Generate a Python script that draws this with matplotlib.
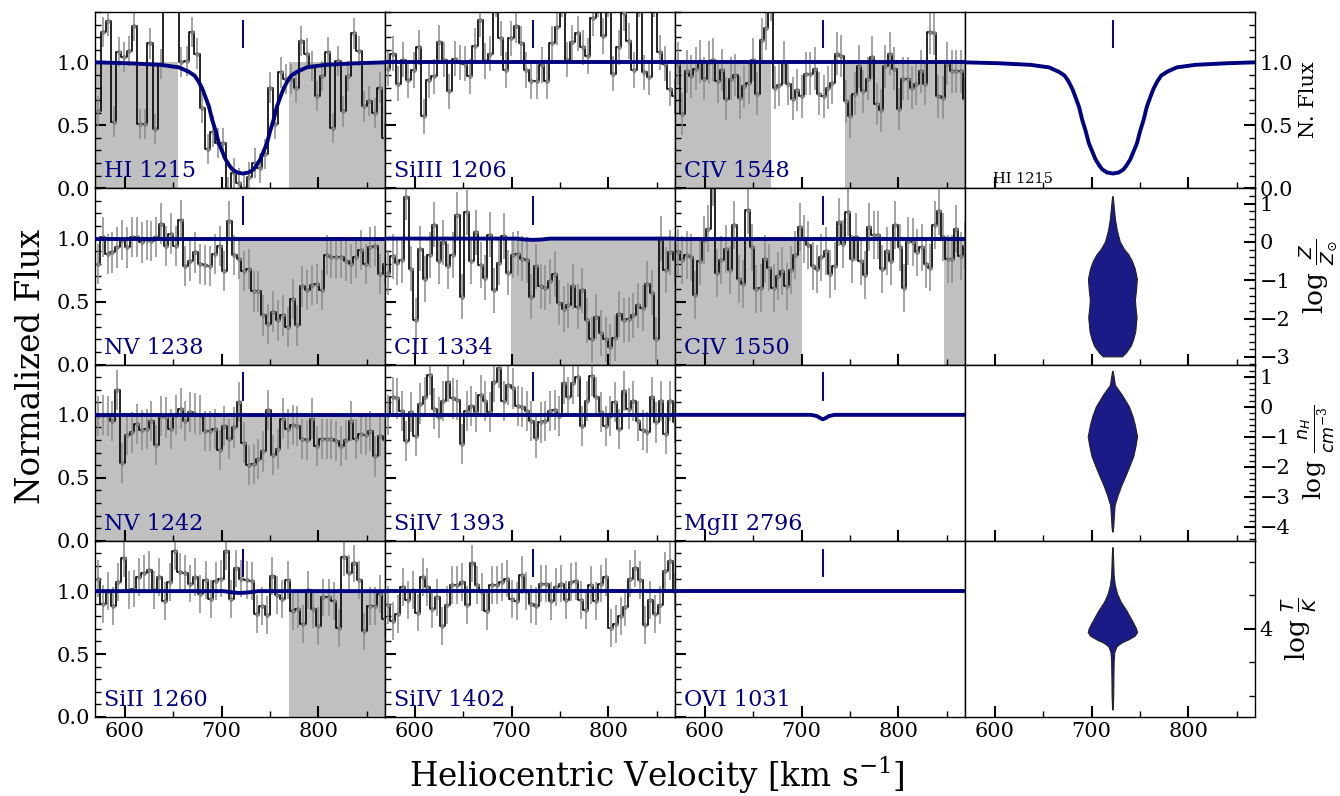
import numpy as np
import matplotlib
matplotlib.use("Agg")
import matplotlib.pyplot as plt
from matplotlib.ticker import MultipleLocator, FixedLocator

plt.rcParams["font.family"] = "DejaVu Serif"
plt.rcParams["mathtext.fontset"] = "custom"
plt.rcParams["mathtext.rm"] = "DejaVu Serif"
plt.rcParams["mathtext.it"] = "DejaVu Sans:italic"
plt.rcParams["mathtext.bf"] = "DejaVu Serif:bold"

# ---------------------------------------------------------------- data
VEL_RANGE = (572, 869)          # velocity span of the binned pixels [km/s]
V_COMPONENT = 722               # velocity of the fitted component [km/s]

flux_hi1215 = [0.61, 1.24, 1.33, 0.53, 1.08, 1.04, 1.09, 1.29, 0.51, 0.51,
               1.15, 0.47, 0.99, 1.55, 1.60, 1.55, 1.00, 1.01, 1.24, 1.07,
               0.64, 0.31, 0.45, 0.36, 0.36, -0.03, 0.12, 0.04, 0.00, 0.09,
               0.20, 0.16, 0.27, 0.80, 0.51, 0.92, 0.87, 0.87, 0.80, 1.17,
               1.07, 0.97, 0.73, 0.89, 1.08, 0.48, 1.01, 0.61, 0.89, 1.23,
               1.09, 0.65, 0.69, 0.60, 0.80, 0.40]
flux_siiii1206 = [0.95, 1.07, 0.83, 1.02, 0.86, 0.94, 1.12, 0.57, 0.86, 0.89,
                  1.16, 1.02, 0.77, 1.03, 1.00, 0.99, 0.89, 1.13, 1.34, 1.01,
                  1.07, 1.50, 1.19, 0.94, 1.19, 1.29, 1.15, 0.94, 0.85, 0.85,
                  0.98, 0.85, 1.15, 1.28, 1.50, 1.02, 1.16, 1.23, 1.12, 1.05,
                  1.35, 1.50, 1.21, 1.50, 0.91, 1.12, 1.39, 1.17, 0.94, 1.50,
                  0.92, 0.88, 1.50, 1.08, 0.99, 0.79, 0.73]
flux_civ1548 = [0.99, 0.59, 0.93, 0.89, 0.95, 1.01, 0.87, 1.00, 1.02, 0.85,
                0.94, 0.71, 0.87, 0.90, 0.72, 0.81, 0.84, 1.02, 0.75, 1.18,
                1.27, 1.50, 0.80, 0.82, 1.00, 0.83, 0.71, 0.78, 0.73, 0.91,
                0.91, 0.95, 0.75, 0.73, 0.80, 0.84, 1.07, 1.05, 0.69, 0.57,
                0.75, 0.97, 0.77, 0.87, 1.04, 0.67, 0.62, 0.97, 1.07, 0.95,
                0.63, 0.87, 0.87, 0.80, 0.83, 0.93, 0.83, 1.24, 1.23, 0.73,
                0.72, 0.99, 0.93, 0.93, 0.93, 0.71]
flux_nv1238 = [0.80, 1.01, 0.88, 0.89, 0.93, 0.99, 0.93, 1.01, 1.01, 0.97,
               0.99, 0.98, 1.01, 1.12, 0.94, 1.04, 0.94, 1.15, 0.78, 0.82,
               0.89, 0.80, 0.79, 0.78, 0.88, 0.94, 0.74, 1.14, 0.87, 0.84,
               0.74, 0.76, 0.58, 0.58, 0.39, 0.32, 0.42, 0.35, 0.39, 0.30,
               0.52, 0.31, 0.62, 0.59, 0.63, 0.64, 0.59, 0.87, 0.85, 0.85,
               0.85, 0.82, 0.80, 0.85, 0.91, 0.80, 0.93, 0.94, 0.72, 0.80]
flux_cii1334 = [0.73, 0.86, 0.81, 0.83, 1.33, 0.76, 0.35, 0.92, 0.68, 0.87,
                1.11, 0.82, 0.97, 0.78, 0.87, 1.19, 0.54, 1.21, 0.82, 1.05,
                0.79, 0.69, 1.03, 0.59, 0.81, 1.02, 0.73, 0.87, 0.88, 0.84,
                0.83, 0.54, 0.78, 0.62, 0.61, 0.66, 0.72, 0.49, 0.44, 0.47,
                0.62, 0.46, 0.59, 0.35, 0.20, 0.38, 0.25, 0.20, 0.14, 0.21,
                0.40, 0.35, 0.36, 0.39, 0.47, 0.45, 0.64, 0.57, 0.20, 1.00,
                0.75, 0.89, 0.83]
flux_civ1550 = [0.89, 0.83, 0.87, 0.85, 0.55, 0.82, 0.99, 1.08, 1.45, 0.73,
                0.83, 0.92, 0.75, 1.11, 0.68, 0.64, 1.23, 0.93, 0.60, 0.61,
                0.84, 0.77, 0.61, 0.70, 0.74, 0.62, 0.75, 0.87, 1.09, 1.00,
                0.95, 0.78, 0.76, 0.85, 0.90, 0.72, 0.78, 1.13, 0.96, 1.21,
                0.84, 1.01, 0.82, 0.71, 1.09, 1.03, 1.03, 0.76, 0.90, 0.82,
                1.11, 0.93, 0.61, 0.98, 0.97, 0.89, 0.93, 0.80, 0.77, 1.11,
                1.22, 1.01, 0.84, 0.84, 1.08, 0.86, 0.94]
flux_nv1242 = [0.99, 1.00, 0.99, 0.95, 1.20, 0.62, 0.84, 0.86, 0.93, 0.88,
               0.89, 0.95, 0.76, 0.99, 0.98, 0.89, 1.00, 1.05, 0.95, 1.02,
               1.01, 1.00, 0.87, 0.87, 0.89, 0.72, 0.91, 0.81, 0.90, 1.10,
               0.78, 0.60, 0.61, 0.65, 0.71, 1.04, 0.68, 0.73, 0.97, 0.89,
               0.92, 0.91, 0.81, 0.80, 0.97, 0.75, 0.81, 0.81, 0.81, 0.79,
               0.75, 0.80, 0.95, 0.81, 0.85, 0.84, 0.87, 0.67, 0.83, 0.80]
flux_siiv1393 = [1.00, 1.14, 1.13, 1.03, 0.79, 1.02, 0.83, 1.09, 1.14, 1.32,
                 1.05, 0.98, 1.11, 1.26, 1.13, 1.12, 0.77, 1.03, 1.07, 1.02,
                 1.16, 1.11, 1.02, 1.26, 1.37, 1.11, 1.24, 1.21, 1.07, 1.06,
                 1.03, 0.95, 0.82, 0.94, 0.95, 1.03, 1.04, 0.99, 1.25, 1.14,
                 1.25, 1.30, 0.91, 1.11, 1.31, 1.14, 1.02, 0.91, 0.99, 1.10,
                 0.89, 1.19, 1.05, 1.11, 0.95, 0.88, 0.86, 1.14, 0.94, 1.11,
                 0.85, 1.11, 0.94]
flux_siii1260 = [1.10, 0.90, 1.00, 0.88, 1.07, 1.26, 1.01, 1.02, 1.11, 1.14,
                 1.17, 1.01, 1.11, 0.92, 1.07, 1.32, 1.15, 1.14, 1.06, 1.11,
                 0.98, 1.09, 0.94, 1.08, 1.10, 1.32, 0.94, 1.18, 1.10, 1.09,
                 1.08, 0.82, 0.88, 0.81, 1.12, 0.97, 0.94, 1.09, 0.84, 0.86,
                 0.74, 1.01, 0.86, 0.72, 0.95, 0.95, 0.92, 0.71, 1.27, 1.14,
                 1.22, 1.09, 0.68, 0.88, 0.88, 0.98, 0.78]
flux_siiv1402 = [0.89, 0.76, 0.82, 1.03, 0.93, 1.01, 0.83, 1.11, 1.03, 0.86,
                 0.95, 0.72, 0.89, 1.05, 1.05, 1.07, 0.89, 1.22, 1.05, 0.99,
                 0.84, 1.05, 1.05, 1.07, 1.10, 0.94, 0.92, 1.13, 1.00, 0.90,
                 0.88, 1.06, 1.06, 0.92, 1.03, 1.06, 0.93, 1.07, 1.08, 0.93,
                 0.85, 1.05, 0.92, 1.06, 1.11, 0.71, 0.74, 0.80, 0.87, 1.10,
                 1.18, 1.09, 0.73, 0.93, 0.82, 0.89, 1.16, 1.24, 0.99]

# typical 1-sigma flux uncertainty per transition
err_hi1215, err_siiii1206, err_civ1548 = 0.12, 0.14, 0.17
err_nv1238, err_cii1334, err_civ1550 = 0.16, 0.18, 0.19
err_nv1242, err_siiv1393 = 0.16, 0.16
err_siii1260, err_siiv1402 = 0.15, 0.15

# velocity intervals excluded from the fit (blends / contamination)
mask_hi1215 = [(560, 655), (770, 880)]
mask_civ1548 = [(560, 668), (745, 880)]
mask_nv1238 = [(718, 880)]
mask_cii1334 = [(699, 880)]
mask_civ1550 = [(560, 700), (847, 880)]
mask_nv1242 = [(560, 880)]
mask_siii1260 = [(770, 880)]

# best-fit model profiles
model_hi_v = [569, 604, 637, 656, 666, 672, 676, 680, 683, 687, 690, 694, 697,
              701, 704, 708, 711, 716, 722, 728, 733, 736, 740, 743, 747, 750,
              754, 757, 761, 764, 768, 772, 778, 788, 807, 840, 869]
model_hi_f = [1.0, 0.993, 0.98, 0.96, 0.925, 0.895, 0.85, 0.79, 0.73, 0.645,
              0.55, 0.45, 0.36, 0.285, 0.23, 0.18, 0.15, 0.125, 0.117, 0.125,
              0.15, 0.18, 0.23, 0.285, 0.36, 0.45, 0.55, 0.645, 0.73, 0.79,
              0.85, 0.895, 0.925, 0.96, 0.98, 0.993, 1.0]
model_flat_v = [569, 869]
model_flat_f = [1.0, 1.0]
model_cii_v = [569, 705, 714, 722, 731, 740, 869]
model_cii_f = [1.0, 1.0, 0.993, 0.99, 0.993, 1.0, 1.0]
model_siii_v = [569, 702, 711, 719, 728, 738, 869]
model_siii_f = [1.0, 1.0, 0.99, 0.985, 0.99, 1.0, 1.0]
model_mgii_v = [569, 710, 716, 719, 722, 725, 728, 734, 869]
model_mgii_f = [1.0, 1.0, 0.99, 0.975, 0.965, 0.975, 0.99, 1.0, 1.0]

# posterior distributions: parameter level and violin half-width [km/s]
logz_level = [-3.0, -2.9, -2.72, -2.55, -2.35, -1.98, -1.75, -1.52, -1.25,
              -0.97, -0.7, -0.5, -0.33, -0.2, 0.0, 0.3, 0.59, 0.8, 1.0, 1.18]
logz_width = [10, 14, 19, 21.5, 23.6, 25, 24, 23.3, 24.5, 25.3, 23, 20, 16.3,
              12, 7.6, 4.5, 2.6, 1.8, 1.0, 0.3]
lognh_level = [-4.18, -4.0, -3.76, -3.29, -2.94, -2.65, -2.35, -2.0, -1.65,
               -1.3, -1.0, -0.59, -0.3, 0.0, 0.4, 0.71, 1.0, 1.18]
lognh_width = [0.3, 0.9, 1.3, 2.3, 5.7, 9, 13, 17.5, 21.7, 24, 25.5, 23, 20.5,
               17, 9.5, 2.6, 1.2, 0.3]
logt_level = [3.758, 3.8, 3.85, 3.905, 3.93, 3.947, 3.957, 3.968, 3.978, 3.989,
              4.0, 4.016, 4.03, 4.053, 4.08, 4.105, 4.13, 4.158, 4.2, 4.242]
logt_width = [0.3, 0.8, 1.0, 1.3, 2.0, 4.3, 9, 17, 23, 25.5, 24.5, 21.7, 19,
              14.6, 8.5, 4.7, 2.5, 1.3, 0.8, 0.3]

# ---------------------------------------------------------------- style
NAVY = "#000080"
VIOLIN = "#1b1b88"
SHADE = "#c0c0c0"
XLIM = (569, 869)
YLIM = (0, 1.4)
TICK_FS = 15


def style_ticks(ax, row, left_labels):
    ax.xaxis.set_major_locator(MultipleLocator(100))
    ax.xaxis.set_minor_locator(MultipleLocator(50))
    ax.tick_params(which="both", direction="in", top=False, labelsize=TICK_FS,
                   labelbottom=(row == 3))
    ax.tick_params(which="major", length=8, width=1.5)
    ax.tick_params(which="minor", length=4, width=1.0)
    ax.tick_params(axis="y", left=True, right=False, labelleft=left_labels)
    for s in ax.spines.values():
        s.set_linewidth(1.0)


def spectrum_panel(ax, row, col, name, flux=None, err=None, masks=(),
                   model=(model_flat_v, model_flat_f)):
    ax.set_xlim(*XLIM)
    ax.set_ylim(*YLIM)
    for lo, hi in masks:
        ax.fill_between([lo, hi], 0, 1, color=SHADE, lw=0, zorder=1)
    if flux is not None:
        vel = np.linspace(VEL_RANGE[0], VEL_RANGE[1], len(flux))
        ax.errorbar(vel, flux, yerr=err, fmt="none", ecolor="#8c8c8c",
                    elinewidth=1.1, zorder=2)
        ax.step(vel, flux, where="mid", color="black", lw=1.2, zorder=3)
        ax.plot(vel, flux, "o", ms=2.6, mfc="#8a8a8a", mec="#6a6a6a",
                mew=0.5, zorder=4)
    ax.plot(model[0], model[1], color=NAVY, lw=2.8, zorder=5,
            solid_capstyle="butt")
    ax.plot([V_COMPONENT, V_COMPONENT], [1.12, 1.33], color=NAVY, lw=1.4,
            zorder=5)
    ax.text(0.03, 0.062, name, transform=ax.transAxes, color=NAVY,
            fontsize=16, va="baseline", ha="left", zorder=6)
    ax.yaxis.set_major_locator(MultipleLocator(0.5))
    ax.yaxis.set_minor_locator(MultipleLocator(0.1))
    style_ticks(ax, row, left_labels=(col == 0))


def right_axis(ax, row, label, size):
    ax.set_xlim(*XLIM)
    ax.yaxis.tick_right()
    ax.yaxis.set_label_position("right")
    ax.xaxis.set_major_locator(MultipleLocator(100))
    ax.xaxis.set_minor_locator(MultipleLocator(50))
    ax.tick_params(which="both", direction="in", top=False, left=False,
                   right=True, labelleft=False, labelright=True,
                   labelsize=TICK_FS, labelbottom=(row == 3))
    ax.tick_params(which="major", length=8, width=1.5)
    ax.tick_params(which="minor", length=4, width=1.0)
    ax.set_ylabel(label, fontsize=size)
    for s in ax.spines.values():
        s.set_linewidth(1.0)


def violin(ax, level, width):
    level = np.asarray(level, float)
    width = np.asarray(width, float)
    xs = np.concatenate([V_COMPONENT + width, (V_COMPONENT - width)[::-1]])
    ys = np.concatenate([level, level[::-1]])
    ax.fill(xs, ys, facecolor=VIOLIN, edgecolor="#222222", lw=0.8, zorder=3)


# ---------------------------------------------------------------- figure
fig = plt.figure(figsize=(13.4, 7.96), dpi=100)
gs = fig.add_gridspec(4, 4, left=95 / 1340, right=1255 / 1340,
                      top=1 - 12 / 796, bottom=1 - 717 / 796,
                      wspace=0, hspace=0)
axes = [[fig.add_subplot(gs[r, c]) for c in range(4)] for r in range(4)]

spectrum_panel(axes[0][0], 0, 0, "HI 1215", flux_hi1215, err_hi1215,
               mask_hi1215, (model_hi_v, model_hi_f))
spectrum_panel(axes[0][1], 0, 1, "SiIII 1206", flux_siiii1206, err_siiii1206)
spectrum_panel(axes[0][2], 0, 2, "CIV 1548", flux_civ1548, err_civ1548,
               mask_civ1548)
spectrum_panel(axes[1][0], 1, 0, "NV 1238", flux_nv1238, err_nv1238,
               mask_nv1238)
spectrum_panel(axes[1][1], 1, 1, "CII 1334", flux_cii1334, err_cii1334,
               mask_cii1334, (model_cii_v, model_cii_f))
spectrum_panel(axes[1][2], 1, 2, "CIV 1550", flux_civ1550, err_civ1550,
               mask_civ1550)
spectrum_panel(axes[2][0], 2, 0, "NV 1242", flux_nv1242, err_nv1242,
               mask_nv1242)
spectrum_panel(axes[2][1], 2, 1, "SiIV 1393", flux_siiv1393, err_siiv1393)
spectrum_panel(axes[2][2], 2, 2, "MgII 2796",
               model=(model_mgii_v, model_mgii_f))
spectrum_panel(axes[3][0], 3, 0, "SiII 1260", flux_siii1260, err_siii1260,
               mask_siii1260, (model_siii_v, model_siii_f))
spectrum_panel(axes[3][1], 3, 1, "SiIV 1402", flux_siiv1402, err_siiv1402)
spectrum_panel(axes[3][2], 3, 2, "OVI 1031")

# right-hand column: HI model and parameter posteriors
ax = axes[0][3]
ax.set_ylim(*YLIM)
ax.plot(model_hi_v, model_hi_f, color=NAVY, lw=2.8, zorder=5)
ax.plot([V_COMPONENT, V_COMPONENT], [1.12, 1.33], color=NAVY, lw=1.4)
ax.text(0.097, 0.03, "HI 1215", transform=ax.transAxes, fontsize=10.5,
        va="baseline")
ax.yaxis.set_major_locator(MultipleLocator(0.5))
ax.yaxis.set_minor_locator(MultipleLocator(0.1))
right_axis(ax, 0, "N. Flux", 15)

ax = axes[1][3]
ax.set_ylim(-3.2, 1.4)
violin(ax, logz_level, logz_width)
ax.yaxis.set_major_locator(MultipleLocator(1))
ax.yaxis.set_minor_locator(MultipleLocator(0.2))
right_axis(ax, 1, r"$\log\,\frac{Z}{Z_{\odot}}$", 19)

ax = axes[2][3]
ax.set_ylim(-4.47, 1.41)
violin(ax, lognh_level, lognh_width)
ax.yaxis.set_major_locator(MultipleLocator(1))
ax.yaxis.set_minor_locator(MultipleLocator(0.2))
right_axis(ax, 2, r"$\log\,\frac{n_H}{cm^{-3}}$", 18)

ax = axes[3][3]
ax.set_ylim(3.737, 4.263)
violin(ax, logt_level, logt_width)
ax.yaxis.set_major_locator(FixedLocator([4]))
ax.yaxis.set_minor_locator(FixedLocator([3.8, 3.9, 4.1, 4.2]))
ax.yaxis.set_major_formatter(plt.FuncFormatter(lambda y, p: f"{y:.0f}"))
right_axis(ax, 3, r"$\log\,\frac{T}{K}$", 19)

fig.text(0.023, 0.54, "Normalized Flux", rotation=90, ha="center",
         va="center", fontsize=23.5)
fig.text(0.49, 0.026, r"Heliocentric Velocity [km s$^{-1}$]", ha="center",
         va="center", fontsize=23.5)

fig.savefig("out.png", dpi=100)
